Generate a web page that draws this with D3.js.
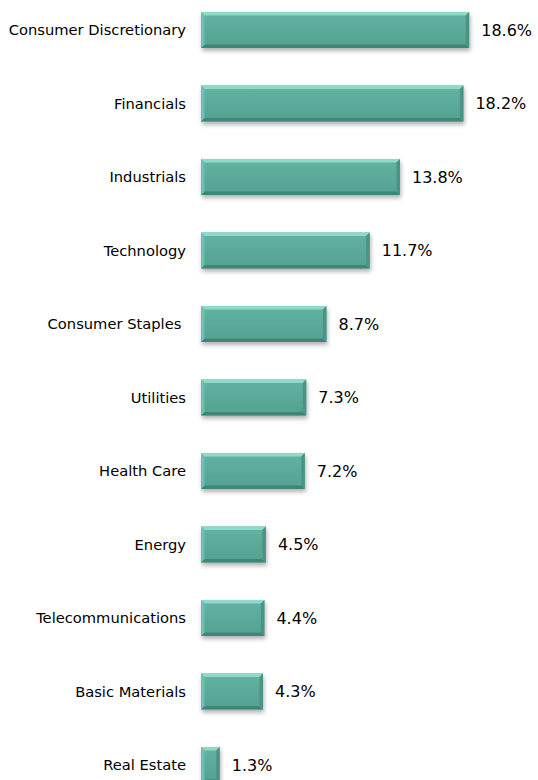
<!DOCTYPE html>
<html><head><meta charset="utf-8">
<script src="https://cdn.jsdelivr.net/npm/d3@7"></script>
<style>body{margin:0;background:#fff}svg{display:block}</style>
</head><body>
<script>
const categories = ["Consumer Discretionary","Financials","Industrials","Technology","Consumer Staples ","Utilities","Health Care","Energy","Telecommunications","Basic Materials","Real Estate"];
const values = [18.6,18.2,13.8,11.7,8.7,7.3,7.2,4.5,4.4,4.3,1.3];
const valueLabels = ["18.6%","18.2%","13.8%","11.7%","8.7%","7.3%","7.2%","4.5%","4.4%","4.3%","1.3%"];

const W = 538, H = 780;
const svg = d3.select("body").append("svg").attr("width", W).attr("height", H);
const defs = svg.append("defs");
const f = defs.append("filter").attr("id","sh").attr("x","-10%").attr("y","-20%").attr("width","130%").attr("height","160%");
f.append("feDropShadow").attr("dx",1).attr("dy",3).attr("stdDeviation",2).attr("flood-color","#000").attr("flood-opacity",0.3);
const g1 = defs.append("linearGradient").attr("id","face").attr("x1",0).attr("y1",0).attr("x2",0).attr("y2",1);
g1.append("stop").attr("offset","0%").attr("stop-color","#62b3a2");
g1.append("stop").attr("offset","100%").attr("stop-color","#54a190");

const x = d3.scaleLinear().domain([0, 20]).range([201, 201 + 20*14.42]);
const y = d3.scaleBand().domain(categories).range([-6.8, 801.7]).paddingInner(0.51).paddingOuter(0.255);

const row = svg.selectAll("g.row").data(categories).enter().append("g").attr("class","row");
const b = 3.5;
row.each(function(c, i){
  const g = d3.select(this);
  const x0 = x(0), x1 = x(values[i]), y0 = y(c), h = y.bandwidth(), y1 = y0 + h;
  const bar = g.append("g").attr("filter","url(#sh)");
  bar.append("rect").attr("x",x0).attr("y",y0).attr("width",x1-x0).attr("height",h).attr("fill","url(#face)");
  const bb = Math.min(b, (x1-x0)/2);
  bar.append("polygon").attr("points",[[x0,y0],[x1,y0],[x1-bb,y0+b],[x0+bb,y0+b]].join(" ")).attr("fill","#8fd9c8");
  bar.append("polygon").attr("points",[[x0,y1],[x1,y1],[x1-bb,y1-b],[x0+bb,y1-b]].join(" ")).attr("fill","#3f8677");
  bar.append("polygon").attr("points",[[x0,y0],[x0+bb,y0+b],[x0+bb,y1-b],[x0,y1]].join(" ")).attr("fill","#6fbfae");
  bar.append("polygon").attr("points",[[x1,y0],[x1-bb,y0+b],[x1-bb,y1-b],[x1,y1]].join(" ")).attr("fill","#4a9585");
  g.append("text").attr("x", 186).attr("y", y0 + h/2).attr("dy","0.35em").attr("text-anchor","end")
    .attr("font-family","DejaVu Sans, Verdana, sans-serif").attr("font-size","14.7px").attr("fill","#000")
    .style("white-space","pre").text(c);
  g.append("text").attr("x", x1 + 12).attr("y", y0 + h/2).attr("dy","0.35em")
    .attr("font-family","DejaVu Sans, Verdana, sans-serif").attr("font-size","16px").attr("fill","#000")
    .text(valueLabels[i]);
});
</script>
</body></html>
